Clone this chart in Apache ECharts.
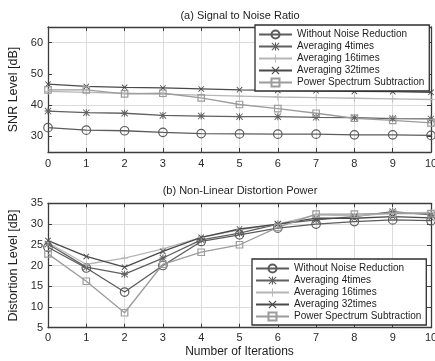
<!DOCTYPE html>
<html>
<head>
<meta charset="utf-8">
<script src="https://cdn.jsdelivr.net/npm/echarts@6/dist/echarts.min.js"></script>
<style>
html, body { margin: 0; padding: 0; background: #ffffff; }
#chart { width: 435px; height: 361px; }
</style>
</head>
<body>
<div id="chart"></div>
<script>
// Iteration counts shared by both panels
const iterations = [0, 1, 2, 3, 4, 5, 6, 7, 8, 9, 10];

const seriesNames = [
  'Without Noise Reduction',
  'Averaging 4times',
  'Averaging 16times',
  'Averaging 32times',
  'Power Spectrum Subtraction'
];

// (a) SNR level [dB]
const snrWithout = [32.8, 32.0, 31.8, 31.3, 30.9, 30.8, 30.7, 30.7, 30.5, 30.5, 30.3];
const snrAvg4    = [38.1, 37.6, 37.4, 36.7, 36.5, 36.3, 36.3, 36.1, 36.0, 35.7, 35.6];
const snrAvg16   = [44.4, 44.1, 43.8, 43.5, 43.2, 42.9, 42.6, 42.4, 42.2, 42.0, 41.8];
const snrAvg32   = [46.7, 46.0, 45.7, 45.5, 45.2, 44.9, 44.7, 44.6, 44.4, 44.3, 44.1];
const snrPss     = [44.9, 44.9, 43.6, 43.8, 42.3, 40.2, 38.9, 37.4, 35.8, 35.1, 34.3];

// (b) Non-linear distortion level [dB]
const distWithout = [24.4, 19.4, 13.6, 20.0, 25.8, 27.4, 29.0, 30.0, 30.6, 31.0, 30.8];
const distAvg4    = [25.2, 19.6, 17.9, 21.8, 26.2, 27.8, 30.0, 31.0, 31.8, 33.0, 32.2];
const distAvg16   = [25.5, 20.3, 21.8, 24.0, 26.8, 28.6, 30.0, 32.2, 32.0, 32.6, 32.8];
const distAvg32   = [26.0, 22.2, 19.6, 23.4, 26.8, 28.8, 30.0, 31.4, 31.4, 31.8, 31.5];
const distPss     = [22.8, 16.2, 8.6, 20.3, 23.2, 25.0, 29.2, 32.4, 32.4, 32.6, 32.5];

// Tick labels
const xTicks = [0, 1, 2, 3, 4, 5, 6, 7, 8, 9, 10];
const snrTicks = [30, 40, 50, 60];
const distTicks = [5, 10, 15, 20, 25, 30, 35];

const FONT = 'Liberation Sans, Arial, sans-serif';
const AXIS = '#3c3c3c';
const GRIDLINE = '#dcdcdc';

// Marker shapes drawn as filled outlines
const SYM_ASTERISK = 'path://M4.3,0 H5.7 V10 H4.3 Z M0,4.3 H10 V5.7 H0 Z M0.9,0 L10,9.1 L9.1,10 L0,0.9 Z M9.1,0 L10,0.9 L0.9,10 L0,9.1 Z';
const SYM_PLUS = 'path://M4.4,0 H5.6 V10 H4.4 Z M0,4.4 H10 V5.6 H0 Z';
const SYM_CROSS = 'path://M1,0 L10,9 L9,10 L0,1 Z M9,0 L10,1 L1,10 L0,9 Z';

const styles = [
  { color: '#5c5c5c', symbol: 'circle', size: 8.5, hollow: true },
  { color: '#606060', symbol: SYM_ASTERISK, size: 7, hollow: false },
  { color: '#b6b6b6', symbol: SYM_PLUS, size: 7, hollow: false },
  { color: '#4a4a4a', symbol: SYM_CROSS, size: 6, hollow: false },
  { color: '#9c9c9c', symbol: 'rect', size: 6.5, hollow: true }
];

function makeSeries(name, values, st, xi, yi) {
  return {
    name: name,
    type: 'line',
    xAxisIndex: xi,
    yAxisIndex: yi,
    data: iterations.map((x, i) => [x, values[i]]),
    symbol: st.symbol,
    symbolSize: st.size,
    symbolKeepAspect: true,
    showAllSymbol: true,
    silent: true,
    animation: false,
    emphasis: { disabled: true },
    lineStyle: { color: st.color, width: 1.3 },
    itemStyle: st.hollow
      ? { color: 'rgba(255,255,255,0)', borderColor: st.color, borderWidth: 1.2 }
      : { color: st.color, borderWidth: 0 }
  };
}

const snrSets = [snrWithout, snrAvg4, snrAvg16, snrAvg32, snrPss];
const distSets = [distWithout, distAvg4, distAvg16, distAvg32, distPss];

const series = [];
seriesNames.forEach((n, i) => series.push(makeSeries(n, snrSets[i], styles[i], 0, 0)));
seriesNames.forEach((n, i) => series.push(makeSeries(n, distSets[i], styles[i], 2, 2)));

const tickLabel = { fontFamily: FONT, fontSize: 11, color: '#2a2a2a' };

function boxAxis(extra) {
  return Object.assign({
    axisLine: { show: true, onZero: false, lineStyle: { color: AXIS, width: 1.3 } },
    axisTick: { show: true, inside: true, length: 4, lineStyle: { color: AXIS, width: 1 } },
    axisLabel: { show: false },
    splitLine: { show: false }
  }, extra);
}

const option = {
  backgroundColor: '#ffffff',
  animation: false,
  title: [
    { text: '(a) Signal to Noise Ratio', left: 240, top: 10, padding: 0, textAlign: 'center',
      textStyle: { fontFamily: FONT, fontSize: 11, fontWeight: 'normal', color: '#1e1e1e' } },
    { text: '(b) Non-Linear Distortion Power', left: 240, top: 185, padding: 0, textAlign: 'center',
      textStyle: { fontFamily: FONT, fontSize: 11, fontWeight: 'normal', color: '#1e1e1e' } }
  ],
  grid: [
    { left: 48, top: 27, width: 383, height: 125, outerBoundsMode: 'none', containLabel: false,
      show: true, backgroundColor: '#ffffff', borderWidth: 0 },
    { left: 48, top: 203.3, width: 383, height: 124.4, outerBoundsMode: 'none', containLabel: false,
      show: true, backgroundColor: '#ffffff', borderWidth: 0 }
  ],
  legend: [
    { data: seriesNames, orient: 'vertical', left: 255, top: 25, itemWidth: 33, itemHeight: 10,
      itemGap: 1, padding: [4, 5, 3, 3], backgroundColor: '#ffffff', borderColor: '#2e2e2e', borderWidth: 1.3,
      borderRadius: 0, selectedMode: false,
      textStyle: { fontFamily: FONT, fontSize: 10, lineHeight: 11, color: '#1e1e1e' } },
    { data: seriesNames, orient: 'vertical', left: 252, top: 259, itemWidth: 33, itemHeight: 10,
      itemGap: 1, padding: [4, 5, 3, 3], backgroundColor: '#ffffff', borderColor: '#2e2e2e', borderWidth: 1.3,
      borderRadius: 0, selectedMode: false,
      textStyle: { fontFamily: FONT, fontSize: 10, lineHeight: 11, color: '#1e1e1e' } }
  ],
  xAxis: [
    boxAxis({ type: 'value', gridIndex: 0, position: 'bottom', min: xTicks[0], max: xTicks[xTicks.length - 1], interval: 1,
      axisLabel: Object.assign({ show: true, margin: 6 }, tickLabel),
      splitLine: { show: true, lineStyle: { color: GRIDLINE, width: 1 } } }),
    boxAxis({ type: 'value', gridIndex: 0, position: 'top', min: 0, max: 10, interval: 1 }),
    boxAxis({ type: 'value', gridIndex: 1, position: 'bottom', min: xTicks[0], max: xTicks[xTicks.length - 1], interval: 1,
      axisLabel: Object.assign({ show: true, margin: 5 }, tickLabel),
      splitLine: { show: true, lineStyle: { color: GRIDLINE, width: 1 } },
      name: 'Number of Iterations', nameLocation: 'middle', nameGap: 18,
      nameTextStyle: { fontFamily: FONT, fontSize: 12, color: '#1e1e1e' } }),
    boxAxis({ type: 'value', gridIndex: 1, position: 'top', min: 0, max: 10, interval: 1 })
  ],
  yAxis: [
    boxAxis({ type: 'value', gridIndex: 0, position: 'left', min: 25, max: 65, interval: 5,
      axisTick: { show: true, inside: true, length: 4, customValues: snrTicks, lineStyle: { color: AXIS, width: 1 } },
      axisLabel: Object.assign({ show: true, margin: 5, customValues: snrTicks,
        formatter: v => (snrTicks.indexOf(v) >= 0 ? String(v) : '') }, tickLabel),
      splitLine: { show: true, lineStyle: { color: ['rgba(0,0,0,0)', GRIDLINE], width: 1 } },
      name: 'SNR Level [dB]', nameLocation: 'middle', nameGap: 20,
      nameTextStyle: { fontFamily: FONT, fontSize: 12.5, color: '#1e1e1e' } }),
    boxAxis({ type: 'value', gridIndex: 0, position: 'right', min: 25, max: 65, interval: 5,
      axisTick: { show: true, inside: true, length: 4, customValues: snrTicks, lineStyle: { color: AXIS, width: 1 } } }),
    boxAxis({ type: 'value', gridIndex: 1, position: 'left', min: distTicks[0], max: distTicks[distTicks.length - 1], interval: 5,
      axisLabel: Object.assign({ show: true, margin: 5 }, tickLabel),
      splitLine: { show: true, lineStyle: { color: GRIDLINE, width: 1 } },
      name: 'Distortion Level [dB]', nameLocation: 'middle', nameGap: 20,
      nameTextStyle: { fontFamily: FONT, fontSize: 12.5, color: '#1e1e1e' } }),
    boxAxis({ type: 'value', gridIndex: 1, position: 'right', min: 5, max: 35, interval: 5 })
  ],
  series: series
};

const chart = echarts.init(document.getElementById('chart'), null, { renderer: 'canvas' });
chart.setOption(option);
</script>
</body>
</html>
